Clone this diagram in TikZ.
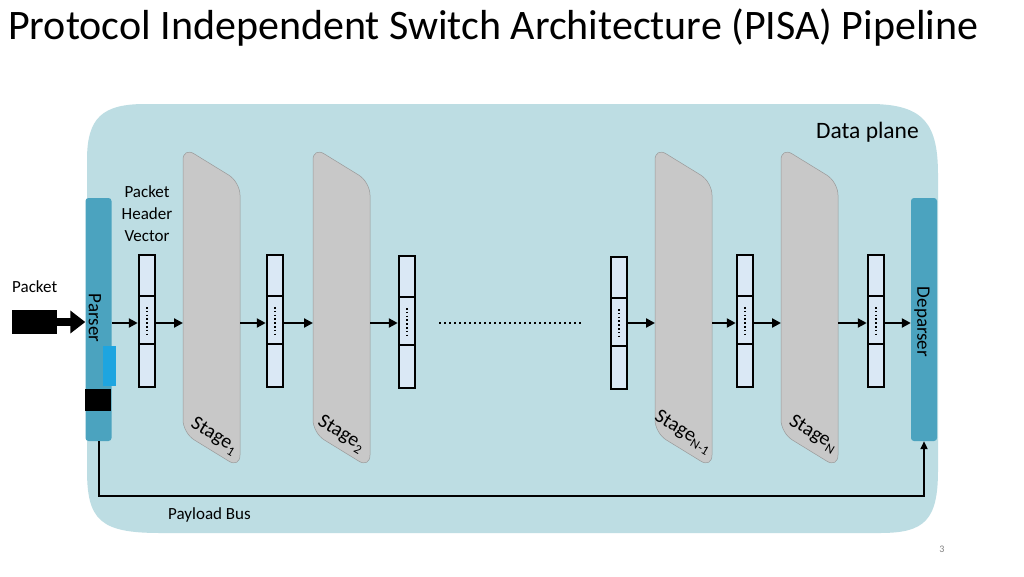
\documentclass[tikz,border=0pt]{standalone}
\usepackage{fontspec}
\setmainfont{Carlito}
\usetikzlibrary{arrows.meta,calc}
\definecolor{bgblue}{RGB}{189,221,227}
\definecolor{barblue}{RGB}{75,163,191}
\definecolor{brightblue}{RGB}{30,165,224}
\definecolor{stagegray}{RGB}{200,200,200}
\definecolor{cellblue}{RGB}{218,232,245}
\tikzset{
  bar/.style={draw=none,fill=barblue,rounded corners=3pt,minimum width=26pt,minimum height=243pt,inner sep=0pt},
  vec/.style={draw=black,line width=2.5pt,fill=cellblue,minimum width=16pt,minimum height=132pt,inner sep=0pt,
    path picture={
      \draw[line width=2.5pt] ([yshift=-41pt]path picture bounding box.north west) -- ([yshift=-41pt]path picture bounding box.north east);
      \draw[line width=2.5pt] ([yshift=-89pt]path picture bounding box.north west) -- ([yshift=-89pt]path picture bounding box.north east);
      \draw[line width=1.6pt,dash pattern=on 1.6pt off 2.2pt] ([yshift=-52pt]path picture bounding box.north) -- ([yshift=-80pt]path picture bounding box.north);
    }},
  stagebox/.style={fill=stagegray,draw=gray!80,line width=0.5pt,rounded corners=13pt},
  arr/.style={line width=2.5pt,-{Triangle[length=9pt,width=9pt]}},
  lbl/.style={font=\fontsize{17}{21}\selectfont,align=center,inner sep=0pt},
  stlbl/.style={font=\fontsize{20}{22}\selectfont,rotate=-31,inner sep=0pt}
}
\newcommand{\stsub}[1]{\raisebox{-0.45ex}{\fontsize{13}{14}\selectfont #1}}
\begin{document}
\begin{tikzpicture}[x=1pt,y=-1pt]
\useasboundingbox (0,0) rectangle (1024,576);
\fill[white] (0,0) rectangle (1024,576);
% title
\node[anchor=base west,inner sep=0pt,font=\fontsize{42}{48}\selectfont] (title) at (8,39) {Protocol Independent Switch Architecture (PISA) Pipeline};
% data plane background
\fill[bgblue] (87,160) .. controls (87,118) and (102,104) .. (145,104) -- (870,104) .. controls (925,104) and (938,125) .. (938,175) -- (938,470) .. controls (938,520) and (925,533) .. (880,533) -- (160,533) .. controls (100,533) and (87,520) .. (87,470) -- cycle;
\node[anchor=east,inner sep=0pt,font=\fontsize{23.5}{26}\selectfont] (dp) at (919,132) {Data plane};
% stages
\foreach \n/\x in {s1/183,s2/313,s3/655,s4/781}{
  \path[stagebox] (\x,147) -- (\x+57,182) -- (\x+57,468) -- (\x,433) -- cycle;
  \coordinate (\n) at (\x+28.5,307);
}
\node[stlbl] (l1) at (214,436) {Stage\stsub{1}};
\node[stlbl] (l2) at (341,434) {Stage\stsub{2}};
\node[stlbl] (l3) at (683,432) {Stage\stsub{N-1}};
\node[stlbl] (l4) at (813,434) {Stage\stsub{N}};
% parser / deparser
\node[bar] (parser) at (98.5,319.5) {};
\node[bar] (deparser) at (924,319.5) {};
\node[font=\fontsize{19}{22}\selectfont,rotate=-90,inner sep=0pt] (ptext) at (95,318) {Parser};
\node[font=\fontsize{19}{22}\selectfont,rotate=-90,inner sep=0pt] (dtext) at (922,322) {Deparser};
\node[fill=brightblue,minimum width=13pt,minimum height=40pt,inner sep=0pt] (bb) at (109.5,366) {};
\node[fill=black,minimum width=26pt,minimum height=22pt,inner sep=0pt] (blk) at (98,400) {};
% packet
\node[lbl,anchor=west] (pkt) at (12,287) {Packet};
\node[fill=black,minimum width=45pt,minimum height=24pt,inner sep=0pt] (pbox) at (34.5,322) {};
\draw[line width=8pt,-{Triangle[length=15pt,width=22pt]}] (pbox.east) -- (parser.west|-pbox.east);
% vectors
\node[vec] (v1) at (147,321) {};
\node[vec] (v2) at (275,321) {};
\node[vec] (v3) at (407,322) {};
\node[vec] (v4) at (619,323) {};
\node[vec] (v5) at (745,321) {};
\node[vec] (v6) at (876,321) {};
\node[lbl] (phv) at (147,214) {Packet\\[1pt]Header\\[1pt]Vector};
% arrows
\coordinate (s1w) at (183,323); \coordinate (s1e) at (240,323);
\coordinate (s2w) at (313,323); \coordinate (s2e) at (370,323);
\coordinate (s3w) at (655,323); \coordinate (s3e) at (712,323);
\coordinate (s4w) at (781,323); \coordinate (s4e) at (838,323);
\draw[arr] (parser.east|-s1w) -- (v1.west|-s1w);
\draw[arr] (v1.east|-s1w) -- (s1w);
\draw[arr] (s1e) -- (v2.west|-s1e);
\draw[arr] (v2.east|-s1e) -- (s2w);
\draw[arr] (s2e) -- (v3.west|-s2e);
\draw[arr] (v4.east|-s3w) -- (s3w);
\draw[arr] (s3e) -- (v5.west|-s3e);
\draw[arr] (v5.east|-s4w) -- (s4w);
\draw[arr] (s4e) -- (v6.west|-s4e);
\draw[arr] (v6.east|-s4e) -- (deparser.west|-s4e);
\coordinate (d1) at (439,323); \coordinate (d2) at (582,323);
\draw[line width=2.2pt,dash pattern=on 2.2pt off 2.8pt] (d1) -- (d2);
% payload bus
\coordinate (pb1) at (98.5,496);
\coordinate (pb2) at (924,496);
\draw[line width=2pt,-{Triangle[length=8pt,width=7pt]}] (parser.south) -- (pb1) -- (pb2) -- (deparser.south);
\node[lbl,anchor=west] (pbus) at (168,515) {Payload Bus};
\node[font=\fontsize{10}{12}\selectfont,text=gray] (pg) at (942,549) {3};
\end{tikzpicture}
\end{document}
